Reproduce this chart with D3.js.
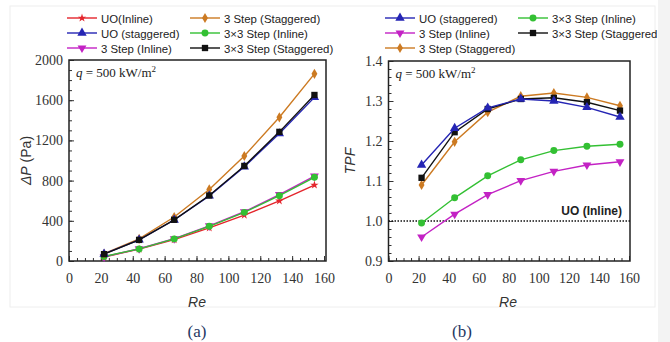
<!DOCTYPE html>
<html>
<head>
<meta charset="utf-8">
<script src="https://cdn.jsdelivr.net/npm/d3@7"></script>
<style>
  body { margin: 0; background: #fff; }
  svg { display: block; }
</style>
</head>
<body>
<svg width="670" height="342"></svg>
<script>
// Re values shared by all series
const re = [22, 44, 66, 88, 110, 132, 154];

// (a) pressure drop, Pa
const dpUOInline      = [40, 118, 212, 330, 456, 598, 756];
const dpUOStaggered   = [70, 210, 408, 648, 938, 1268, 1628];
const dp3StepInline   = [42, 122, 222, 350, 490, 660, 845];
const dp3StepStag     = [72, 220, 438, 712, 1045, 1430, 1862];
const dp3x3Inline     = [45, 120, 220, 345, 484, 650, 833];
const dp3x3Stag       = [68, 210, 410, 652, 946, 1285, 1652];

// (b) thermal performance factor
const tpfUOStaggered  = [1.14, 1.232, 1.283, 1.305, 1.300, 1.284, 1.260];
const tpf3StepInline  = [0.960, 1.017, 1.066, 1.101, 1.124, 1.140, 1.148];
const tpf3StepStag    = [1.090, 1.198, 1.272, 1.312, 1.320, 1.309, 1.288];
const tpf3x3Inline    = [0.995, 1.058, 1.113, 1.153, 1.176, 1.187, 1.192];
const tpf3x3Stag      = [1.108, 1.222, 1.280, 1.305, 1.308, 1.297, 1.276];
const tpfBaseline     = 1.0;

const xTicks = [0, 20, 40, 60, 80, 100, 120, 140, 160];
const dpTicks = [0, 400, 800, 1200, 1600, 2000];
const tpfTicks = [0.9, 1.0, 1.1, 1.2, 1.3, 1.4];

const style = {
  uoInline:   {name: "UO(Inline)",           color: "#e4252c", shape: d3.symbolStar},
  uoStag:     {name: "UO (staggered)",       color: "#2525b4", shape: d3.symbolTriangle},
  s3Inline:   {name: "3 Step (Inline)",      color: "#c322c4", shape: "down"},
  s3Stag:     {name: "3 Step (Staggered)",   color: "#cc7a22", shape: d3.symbolDiamond},
  s33Inline:  {name: "3×3 Step (Inline)",    color: "#33c033", shape: d3.symbolCircle},
  s33Stag:    {name: "3×3 Step (Staggered)", color: "#111111", shape: d3.symbolSquare}
};

const svg = d3.select("svg");
const serif = "'Liberation Serif', 'Times New Roman', serif";
const sans = "'Liberation Sans', Arial, sans-serif";

function marker(g, key, x, y) {
  const s = style[key];
  let p;
  if (s.shape === "down") {
    p = g.append("path").attr("d", d3.symbol(d3.symbolTriangle, 34)())
      .attr("transform", `translate(${x},${y}) rotate(180)`);
  } else {
    const size = s.shape === d3.symbolStar ? 22 : s.shape === d3.symbolDiamond ? 30 : s.shape === d3.symbolSquare ? 40 : 38;
    p = g.append("path").attr("d", d3.symbol(s.shape, size)())
      .attr("transform", `translate(${x},${y})`);
  }
  p.attr("fill", s.color);
}

function panel(opt) {
  const x = d3.scaleLinear().domain([0, 160]).range(opt.xr);
  const y = d3.scaleLinear().domain(opt.yd).range(opt.yr);
  const g = svg.append("g");
  const x0 = opt.xr[0], x1 = opt.frameRight, y0 = opt.yr[0], y1 = opt.yr[1];

  // minor + major ticks on bottom
  const xb = g.append("g").attr("transform", `translate(0,${y0})`)
    .call(d3.axisBottom(x).tickValues(d3.range(0, 161, 5)).tickSize(-3).tickFormat(""));
  xb.select(".domain").remove();
  xb.selectAll("line").attr("stroke", "#333");
  const xM = g.append("g").attr("transform", `translate(0,${y0})`)
    .call(d3.axisBottom(x).tickValues(xTicks).tickSize(-5).tickPadding(12));
  xM.select(".domain").remove();
  xM.selectAll("line").attr("stroke", "#333");
  xM.selectAll("text").attr("font-family", serif).attr("font-size", 14).attr("fill", "#333");

  const yb = g.append("g").attr("transform", `translate(${x0},0)`)
    .call(d3.axisLeft(y).tickValues(opt.minor).tickSize(-3).tickFormat(""));
  yb.select(".domain").remove();
  yb.selectAll("line").attr("stroke", "#333");
  const yM = g.append("g").attr("transform", `translate(${x0},0)`)
    .call(d3.axisLeft(y).tickValues(opt.ticks).tickSize(-5).tickPadding(6).tickFormat(opt.fmt));
  yM.select(".domain").remove();
  yM.selectAll("line").attr("stroke", "#333");
  yM.selectAll("text").attr("font-family", serif).attr("font-size", 14).attr("fill", "#333");

  g.append("rect").attr("x", x0).attr("y", y1).attr("width", x1 - x0).attr("height", y0 - y1)
    .attr("fill", "none").attr("stroke", "#222").attr("stroke-width", 1.5);

  if (opt.baseline !== undefined) {
    g.append("line").attr("x1", x0).attr("x2", x1)
      .attr("y1", y(opt.baseline)).attr("y2", y(opt.baseline))
      .attr("stroke", "#111").attr("stroke-width", 1.5).attr("stroke-dasharray", "1.5,1.5");
    g.append("text").attr("x", x1 - 8).attr("y", y(opt.baseline) - 6)
      .attr("text-anchor", "end").attr("font-family", sans).attr("font-weight", "bold")
      .attr("font-size", 12).attr("fill", "#222").text("UO (Inline)");
  }

  const line = d3.line().x((d, i) => x(re[i])).y(d => y(d));
  opt.series.forEach(([key, vals]) => {
    g.append("path").datum(vals).attr("d", line)
      .attr("fill", "none").attr("stroke", style[key].color).attr("stroke-width", 1.4);
    vals.forEach((v, i) => marker(g, key, x(re[i]), y(v)));
  });

  const q = g.append("text").attr("x", x0 + 7).attr("y", y1 + 17)
    .attr("font-family", serif).attr("font-size", 13).attr("fill", "#222");
  q.append("tspan").attr("font-style", "italic").text("q");
  q.append("tspan").text(" = 500 kW/m");
  q.append("tspan").attr("font-size", 9).attr("dy", -5).text("2");

  g.append("text").attr("x", opt.reX).attr("y", 307).attr("text-anchor", "middle")
    .attr("font-family", sans).attr("font-style", "italic").attr("font-size", 14)
    .attr("fill", "#333").text("Re");

  const yl = g.append("text").attr("transform", `translate(${opt.ylabX},${(y0 + y1) / 2}) rotate(-90)`)
    .attr("text-anchor", "middle").attr("font-family", sans).attr("font-size", 14).attr("fill", "#333");
  opt.ylabel(yl);

  // legend
  opt.legend.forEach(([key, lx, ly, label]) => {
    g.append("line").attr("x1", lx).attr("x2", lx + 30).attr("y1", ly).attr("y2", ly)
      .attr("stroke", style[key].color).attr("stroke-width", 1.4);
    marker(g, key, lx + 15, ly);
    g.append("text").attr("x", lx + 34).attr("y", ly + 4.5)
      .attr("font-family", sans).attr("font-size", 11.4).attr("fill", "#222")
      .text(label || style[key].name);
  });

  g.append("text").attr("x", opt.capX).attr("y", 337).attr("text-anchor", "middle")
    .attr("font-family", serif).attr("font-size", 17).attr("fill", "#1f3864")
    .text(opt.caption);
}

// faint figure border
svg.append("rect").attr("x", 10).attr("y", 6).attr("width", 645).attr("height", 301)
  .attr("fill", "none").attr("stroke", "#eeeeee");

panel({
  xr: [69, 324], frameRight: 326, yd: [0, 2000], yr: [261, 60],
  ticks: dpTicks, minor: d3.range(0, 2001, 100), fmt: d3.format("d"),
  reX: 197, ylabX: 31, capX: 197, caption: "(a)",
  ylabel: t => {
    t.append("tspan").attr("font-style", "italic").text("ΔP");
    t.append("tspan").text(" (Pa)");
  },
  series: [
    ["uoInline", dpUOInline], ["s3Inline", dp3StepInline], ["s33Inline", dp3x3Inline],
    ["s3Stag", dp3StepStag], ["uoStag", dpUOStaggered], ["s33Stag", dp3x3Stag]
  ],
  legend: [
    ["uoInline", 67, 18], ["uoStag", 67, 33], ["s3Inline", 67, 48],
    ["s3Stag", 190, 18], ["s33Inline", 190, 33], ["s33Stag", 190, 48]
  ]
});

panel({
  xr: [388.5, 629], frameRight: 630, yd: [0.9, 1.4], yr: [261, 61],
  ticks: tpfTicks, minor: d3.range(0, 26).map(i => 0.9 + i * 0.02), fmt: d3.format(".1f"),
  reX: 508, ylabX: 355, capX: 462, caption: "(b)", baseline: tpfBaseline,
  ylabel: t => t.append("tspan").attr("font-style", "italic").text("TPF"),
  series: [
    ["s3Inline", tpf3StepInline], ["s33Inline", tpf3x3Inline],
    ["s3Stag", tpf3StepStag], ["s33Stag", tpf3x3Stag], ["uoStag", tpfUOStaggered]
  ],
  legend: [
    ["uoStag", 385, 18], ["s3Inline", 385, 33], ["s3Stag", 385, 48],
    ["s33Inline", 518, 18], ["s33Stag", 518, 33, "3×3 Step (Staggered"]
  ]
});

// grey strip on the right edge of the source image
svg.append("rect").attr("x", 658).attr("y", 0).attr("width", 12).attr("height", 342)
  .attr("fill", "#f3f3f3");
</script>
</body>
</html>
